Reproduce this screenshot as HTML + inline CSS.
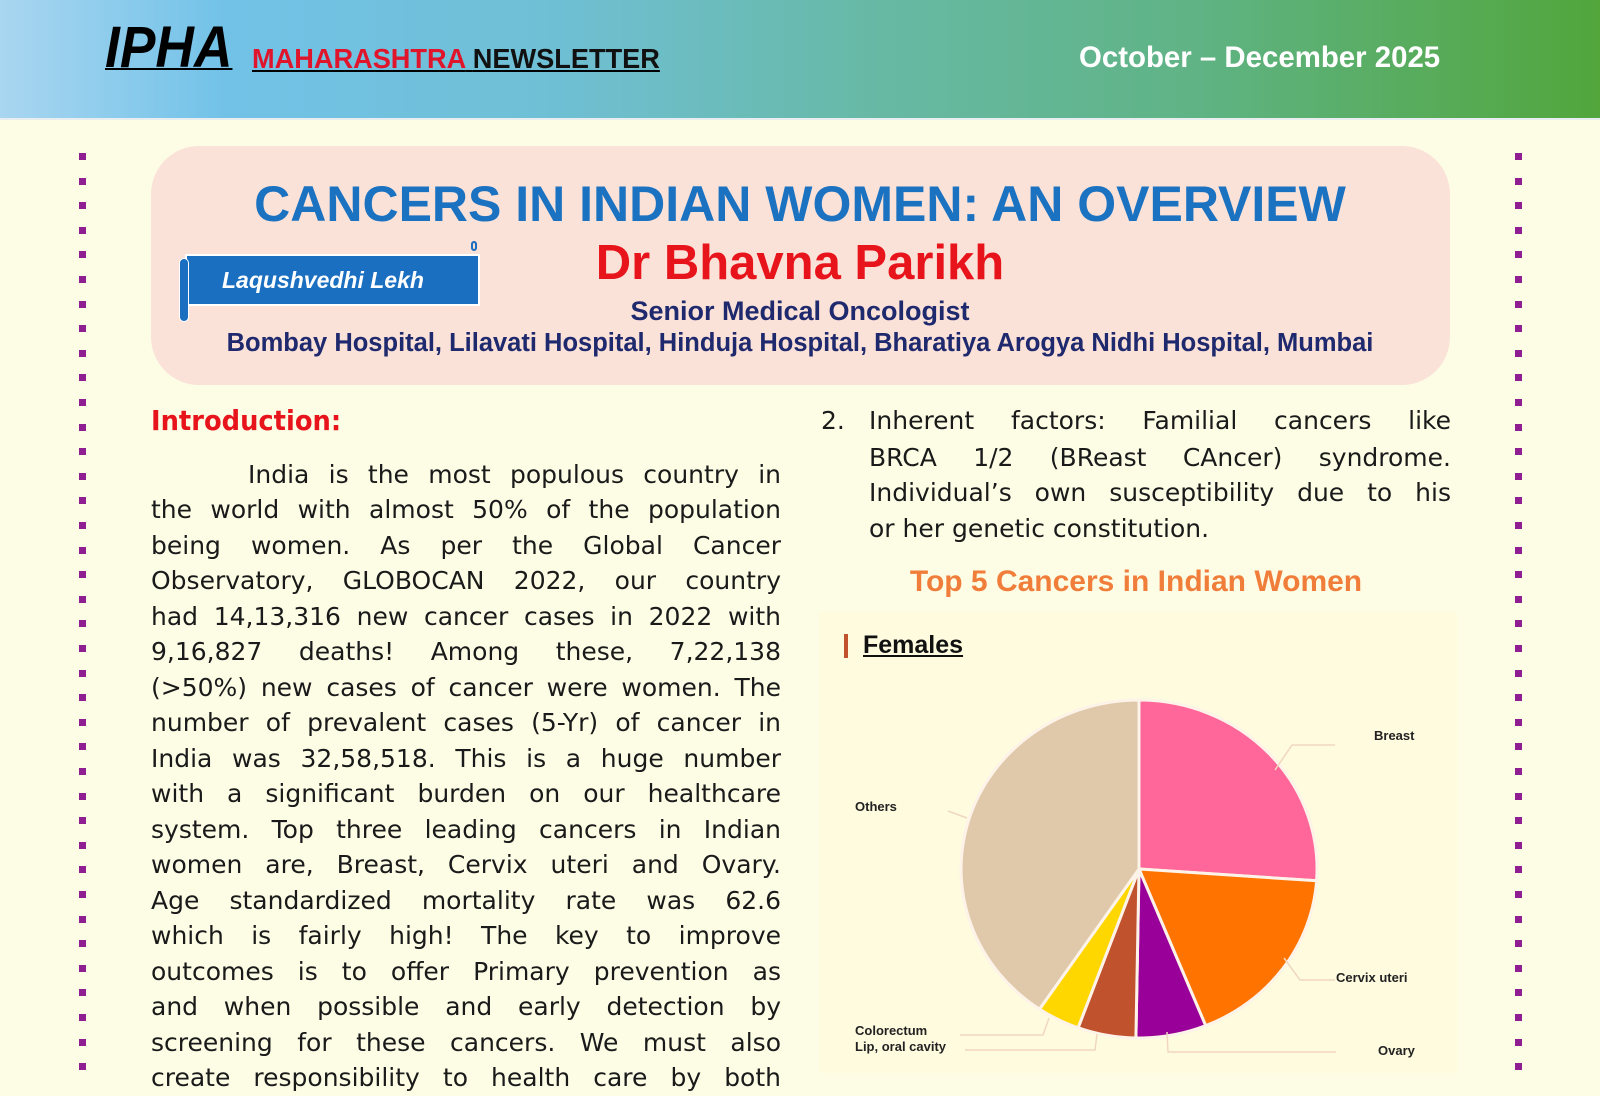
<!DOCTYPE html>
<html><head><meta charset="utf-8"><style>
*{margin:0;padding:0;box-sizing:border-box}
body{width:1600px;height:1073px;overflow:hidden;background:#fdfde6;position:relative;font-family:"Liberation Sans",sans-serif}
.hdr{position:absolute;left:0;top:0;width:1600px;height:120px;background:linear-gradient(90deg,#a9d6f0 0%,#72c2e8 14%,#6fbfd4 35%,#67b9a4 55%,#5fb384 75%,#52a63c 100%);border-bottom:2px solid #e8eef0}
.abs{position:absolute;white-space:nowrap}
.dot{position:absolute;width:7px;height:7px;background:#8e1e92}
.ln{position:absolute;left:151px;width:630px;height:36px;line-height:36px;font-family:"DejaVu Sans",sans-serif;font-size:25px;color:#1a1a1a;text-align:justify;text-align-last:justify;white-space:nowrap;overflow:hidden}
.rl{position:absolute;left:869px;width:582px;height:36px;line-height:36px;font-family:"DejaVu Sans",sans-serif;font-size:25px;color:#1a1a1a;text-align:justify;text-align-last:justify;white-space:nowrap}
.lab{position:absolute;font-size:13px;font-weight:bold;color:#222;white-space:nowrap;line-height:14px}
</style></head><body>
<div class="hdr"></div>
<div class="abs" style="left:105px;top:18px;font-size:58px;font-weight:bold;font-style:italic;color:#000;line-height:60px;text-decoration:underline;text-decoration-thickness:2px;transform:scaleX(0.92);transform-origin:left">IPHA</div>
<div class="abs" style="left:252px;top:44px;font-size:28px;font-weight:bold;line-height:30px;transform:scaleX(0.97);transform-origin:left;text-decoration:underline"><span style="color:#e0142a">MAHARASHTRA</span> <span style="color:#111">NEWSLETTER</span></div>
<div class="abs" style="left:1079px;top:41px;font-size:30px;font-weight:bold;color:#fff;line-height:34px;transform:scaleX(0.98);transform-origin:left">October – December 2025</div>

<div id="dots"></div>

<div class="abs" style="left:151px;top:146px;width:1299px;height:239px;border-radius:48px;background:#fbe2d8"></div>
<div class="abs" style="left:0;width:1600px;top:177px;text-align:center;font-size:50px;font-weight:bold;color:#1b72c1;line-height:54px">CANCERS IN INDIAN WOMEN: AN OVERVIEW</div>
<div class="abs" style="left:0;width:1600px;top:237px;text-align:center;font-size:49px;font-weight:bold;color:#e8141c;line-height:52px">Dr Bhavna Parikh</div>
<div class="abs" style="left:0;width:1600px;top:296px;text-align:center;font-size:27px;font-weight:bold;color:#1f2a6e;line-height:30px">Senior Medical Oncologist</div>
<div class="abs" style="left:0;width:1600px;top:328px;text-align:center;font-size:25.5px;font-weight:bold;color:#1f2a6e;line-height:30px">Bombay Hospital, Lilavati Hospital, Hinduja Hospital, Bharatiya Arogya Nidhi Hospital, Mumbai</div>

<div class="abs" style="left:185px;top:254px;width:295px;height:52px;background:#1a6fc0;border:2px solid #fff"></div>
<div class="abs" style="left:179px;top:258px;width:10px;height:64px;background:#1a6fc0;border-radius:5px;border:1px solid #fff"></div>
<div class="abs" style="left:471px;top:241px;width:6px;height:10px;border:2px solid #1a6fc0;border-radius:3px"></div>
<div class="abs" style="left:222px;top:266px;font-size:23px;font-weight:bold;font-style:italic;color:#fff;line-height:28px">Laqushvedhi Lekh</div>

<div class="abs" style="left:151px;top:405px;font-size:28px;font-weight:bold;color:#e8141c;line-height:32px;font-family:'DejaVu Sans',sans-serif;transform:scaleX(0.92);transform-origin:left">Introduction:</div>
<div class="ln" style="top:457px;left:248px;width:533px">India is the most populous country in</div>
<div class="ln" style="top:492px">the world with almost 50% of the population</div>
<div class="ln" style="top:528px">being women. As per the Global Cancer</div>
<div class="ln" style="top:563px">Observatory, GLOBOCAN 2022, our country</div>
<div class="ln" style="top:599px">had 14,13,316 new cancer cases in 2022 with</div>
<div class="ln" style="top:634px">9,16,827 deaths! Among these, 7,22,138</div>
<div class="ln" style="top:670px">(&gt;50%) new cases of cancer were women. The</div>
<div class="ln" style="top:705px">number of prevalent cases (5-Yr) of cancer in</div>
<div class="ln" style="top:741px">India was 32,58,518. This is a huge number</div>
<div class="ln" style="top:776px">with a significant burden on our healthcare</div>
<div class="ln" style="top:812px">system. Top three leading cancers in Indian</div>
<div class="ln" style="top:847px">women are, Breast, Cervix uteri and Ovary.</div>
<div class="ln" style="top:883px">Age standardized mortality rate was 62.6</div>
<div class="ln" style="top:918px">which is fairly high! The key to improve</div>
<div class="ln" style="top:954px">outcomes is to offer Primary prevention as</div>
<div class="ln" style="top:989px">and when possible and early detection by</div>
<div class="ln" style="top:1025px">screening for these cancers. We must also</div>
<div class="ln" style="top:1060px">create responsibility to health care by both</div>

<div class="abs" style="left:821px;top:403px;font-family:'DejaVu Sans',sans-serif;font-size:25px;line-height:36px;color:#1a1a1a">2.</div>
<div class="rl" style="top:403px">Inherent factors: Familial cancers like</div>
<div class="rl" style="top:440px">BRCA 1/2 (BReast CAncer) syndrome.</div>
<div class="rl" style="top:475px">Individual’s own susceptibility due to his</div>
<div class="rl" style="top:511px;text-align-last:left">or her genetic constitution.</div>

<div class="abs" style="left:0;width:2272px;top:565px;text-align:center;font-size:30px;font-weight:bold;color:#f07e3a;line-height:34px">Top 5 Cancers in Indian Women</div>

<div class="abs" style="left:819px;top:612px;width:638px;height:461px;background:#fefbdf"></div>
<div class="abs" style="left:844px;top:634px;width:4px;height:24px;background:#c0522e"></div>
<div class="abs" style="left:863px;top:630px;font-size:25px;font-weight:bold;color:#111;line-height:30px;text-decoration:underline">Females</div>

<svg class="abs" style="left:0;top:0" width="1600" height="1073" id="pie"></svg>

<div class="lab" style="left:1374px;top:729px">Breast</div>
<div class="lab" style="left:855px;top:800px">Others</div>
<div class="lab" style="left:1336px;top:971px">Cervix uteri</div>
<div class="lab" style="left:1378px;top:1044px">Ovary</div>
<div class="lab" style="left:855px;top:1024px">Colorectum</div>
<div class="lab" style="left:855px;top:1040px">Lip, oral cavity</div>

<script>
var d='';
for(var y=153;y<1073;y+=24.6){d+='<div class="dot" style="left:79px;top:'+Math.round(y)+'px"></div><div class="dot" style="left:1515px;top:'+Math.round(y)+'px"></div>';}
document.getElementById('dots').innerHTML=d;
var cx=1139,cy=869,rx=178,ry=169;
var sl=[[0,94,'#ff6699'],[94,158,'#ff7300'],[158,181,'#990099'],[181,200,'#c0522e'],[200,214,'#ffd700'],[214,360,'#e0c9aa']];
function pt(t){t=t*Math.PI/180;return [cx+rx*Math.sin(t),cy-ry*Math.cos(t)];}
var s='';
sl.forEach(function(a){var p=pt(a[0]),q=pt(a[1]);var lg=(a[1]-a[0])>180?1:0;
s+='<path d="M'+cx+' '+cy+' L'+p[0].toFixed(1)+' '+p[1].toFixed(1)+' A'+rx+' '+ry+' 0 '+lg+' 1 '+q[0].toFixed(1)+' '+q[1].toFixed(1)+' Z" fill="'+a[2]+'" stroke="#fdf3e8" stroke-width="3" stroke-linejoin="round"/>';});
var lc='#f0d8c0';
s+='<polyline points="1275,770 1292,745 1335,745" fill="none" stroke="'+lc+'" stroke-width="1.5"/>';
s+='<polyline points="1284,958 1300,980 1335,980" fill="none" stroke="'+lc+'" stroke-width="1.5"/>';
s+='<polyline points="1167,1032 1168,1052 1336,1052" fill="none" stroke="'+lc+'" stroke-width="1.5"/>';
s+='<polyline points="1097,1034 1095,1050 965,1050" fill="none" stroke="'+lc+'" stroke-width="1.5"/>';
s+='<polyline points="1049,1018 1043,1035 960,1035" fill="none" stroke="'+lc+'" stroke-width="1.5"/>';
s+='<polyline points="967,818 948,811" fill="none" stroke="'+lc+'" stroke-width="1.5"/>';
document.getElementById('pie').innerHTML=s;
</script>
</body></html>
